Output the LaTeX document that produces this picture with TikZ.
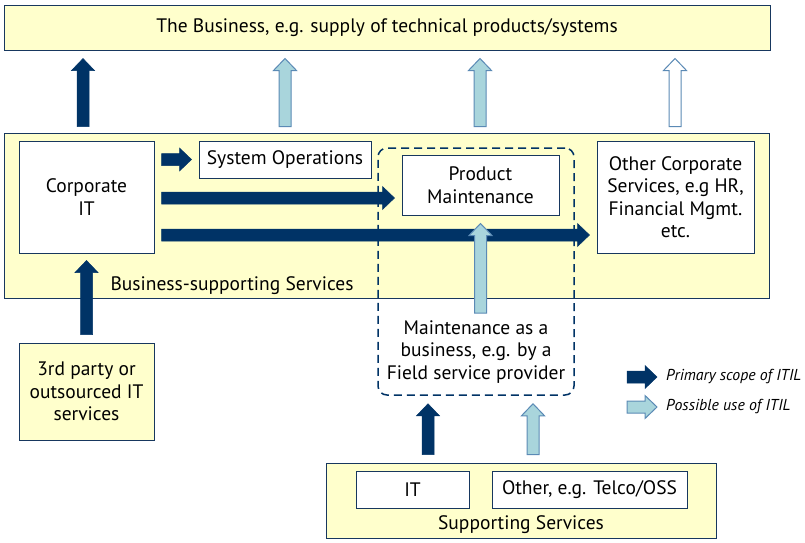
\documentclass[tikz,border=0pt]{standalone}
\usepackage{fontspec}
\setmainfont{PT Sans}
\usetikzlibrary{calc}
\definecolor{navy}{HTML}{003366}
\definecolor{boxline}{HTML}{17375E}
\definecolor{paleyellow}{HTML}{FFFFCC}
\definecolor{lightfill}{HTML}{A9D5DC}
\definecolor{steel}{HTML}{5B8AB5}
\tikzset{
  box/.style={draw=boxline, line width=1pt, fill=white, inner sep=0pt, align=center},
  ybox/.style={box, fill=paleyellow},
  txt/.style={font=\fontsize{19.5}{22.5}\selectfont, align=center, inner sep=0pt},
  legtxt/.style={font=\fontsize{15.8}{18}\selectfont\itshape, anchor=west, inner sep=0pt},
  darkA/.style={fill=navy, draw=navy, line width=0.5pt},
  lightA/.style={fill=lightfill, draw=steel, line width=1pt},
  whiteA/.style={fill=white, draw=steel, line width=1pt},
  dashbox/.style={draw=navy, line width=1.5pt, dash pattern=on 8pt off 5pt, rounded corners=9pt},
}
\newcommand\uparr[3]{\draw[#1] let \p1=(#2), \p2=(#3) in
  (\x1-6pt,\y1) -- (\x1-6pt,\y2-12pt) -- (\x1-11.5pt,\y2-12pt) -- (\x1,\y2)
  -- (\x1+11.5pt,\y2-12pt) -- (\x1+6pt,\y2-12pt) -- (\x1+6pt,\y1) -- cycle;}
\newcommand\rightarr[3]{\draw[#1] let \p1=(#2), \p2=(#3) in
  (\x1,\y1+6pt) -- (\x2-12pt,\y1+6pt) -- (\x2-12pt,\y1+11.5pt) -- (\x2,\y1)
  -- (\x2-12pt,\y1-11.5pt) -- (\x2-12pt,\y1-6pt) -- (\x1,\y1-6pt) -- cycle;}
\begin{document}
\begin{tikzpicture}[x=1pt,y=-1pt]
\useasboundingbox (0,0) rectangle (805,542);
% top business box
\node[ybox, txt, minimum width=766pt, minimum height=45pt] (top) at (387,27.5)
  {\raisebox{-2.5pt}{The Business, e.g. supply of technical products/systems}};
% business-supporting services
\node[ybox, minimum width=765pt, minimum height=165pt] (bsup) at (386.5,215.5) {};
\node[txt] (bsuplabel) at (232,286) {Business-supporting Services};
\node[box, txt, minimum width=135pt, minimum height=112pt] (corpit) at (86.5,197) {Corporate\\IT};
\node[box, txt, minimum width=172pt, minimum height=37pt] (sysops) at (285,159.5) {System Operations};
\node[dashbox, minimum width=196pt, minimum height=247pt] (dash) at (476,271.5) {};
\node[box, txt, minimum width=157pt, minimum height=60pt] (prodmaint) at (480.5,185) {Product\\Maintenance};
\node[box, txt, minimum width=157pt, minimum height=112pt] (other) at (675.5,197)
  {Other Corporate\\Services, e.g HR,\\Financial Mgmt.\\etc.};
\node[txt] (maint) at (476,352) {Maintenance as a\\business, e.g. by a\\Field service provider};
% third party
\node[ybox, txt, minimum width=135pt, minimum height=97pt] (third) at (86.5,391.5)
  {3rd party or\\outsourced IT\\services};
% supporting services
\node[ybox, minimum width=390pt, minimum height=75pt] (supp) at (521,500.5) {};
\node[box, txt, minimum width=113pt, minimum height=37pt] (itbox) at (412.5,489.5) {IT};
\node[box, txt, minimum width=195pt, minimum height=37pt] (otherbox) at (589.5,489.5) {Other, e.g. Telco/OSS};
\node[txt] (supplabel) at (521,525) {Supporting Services};
% legend
\node[legtxt] (leg1) at (666,377) {Primary scope of ITIL};
\node[legtxt] (leg2) at (666,407) {Possible use of ITIL};
\coordinate (l1s) at ([xshift=-39pt]leg1.west);
\coordinate (l1e) at ([xshift=-9pt]leg1.west);
\coordinate (l2s) at ([xshift=-39pt]leg2.west);
\coordinate (l2e) at ([xshift=-9pt]leg2.west);
\rightarr{darkA}{l1s}{l1e}
\rightarr{lightA}{l2s}{l2e}
% arrows to the business
\foreach \n/\xx in {t1/83,t2/285,t3/480,t4/675}{
  \coordinate (\n s) at ([yshift=6pt]bsup.north -| \xx,0);
  \coordinate (\n e) at ([yshift=-8pt]top.south -| \xx,0);
}
\uparr{darkA}{t1s}{t1e}
\uparr{lightA}{t2s}{t2e}
\uparr{lightA}{t3s}{t3e}
\uparr{whiteA}{t4s}{t4e}
% horizontal arrows from corporate IT
\coordinate (h1s) at ([xshift=7pt]corpit.east |- sysops.west);
\coordinate (h1e) at ([xshift=-7pt]sysops.west);
\coordinate (h2s) at ([xshift=7pt]corpit.east |- 0,198);
\coordinate (h2e) at ([xshift=-7pt]prodmaint.west |- 0,198);
\coordinate (h3s) at ([xshift=7pt]corpit.east |- 0,235);
\coordinate (h3e) at ([xshift=-7pt]other.west |- 0,235);
\rightarr{darkA}{h1s}{h1e}
\rightarr{darkA}{h2s}{h2e}
\rightarr{darkA}{h3s}{h3e}
% third party to corporate IT
\coordinate (v1s) at ([yshift=8pt]third.north);
\coordinate (v1e) at ([yshift=-7pt]corpit.south);
\uparr{darkA}{v1s}{v1e}
% maintenance business to product maintenance
\coordinate (v2s) at (prodmaint.south |- 0,313);
\coordinate (v2e) at ([yshift=-8pt]prodmaint.south);
\uparr{lightA}{v2s}{v2e}
% supporting services to maintenance business
\coordinate (s1s) at ([yshift=8pt]supp.north -| 428,0);
\coordinate (s1e) at ([yshift=-8pt]dash.south -| 428,0);
\coordinate (s2s) at ([yshift=8pt]supp.north -| 533,0);
\coordinate (s2e) at ([yshift=-8pt]dash.south -| 533,0);
\uparr{darkA}{s1s}{s1e}
\uparr{lightA}{s2s}{s2e}
\end{tikzpicture}
\end{document}
